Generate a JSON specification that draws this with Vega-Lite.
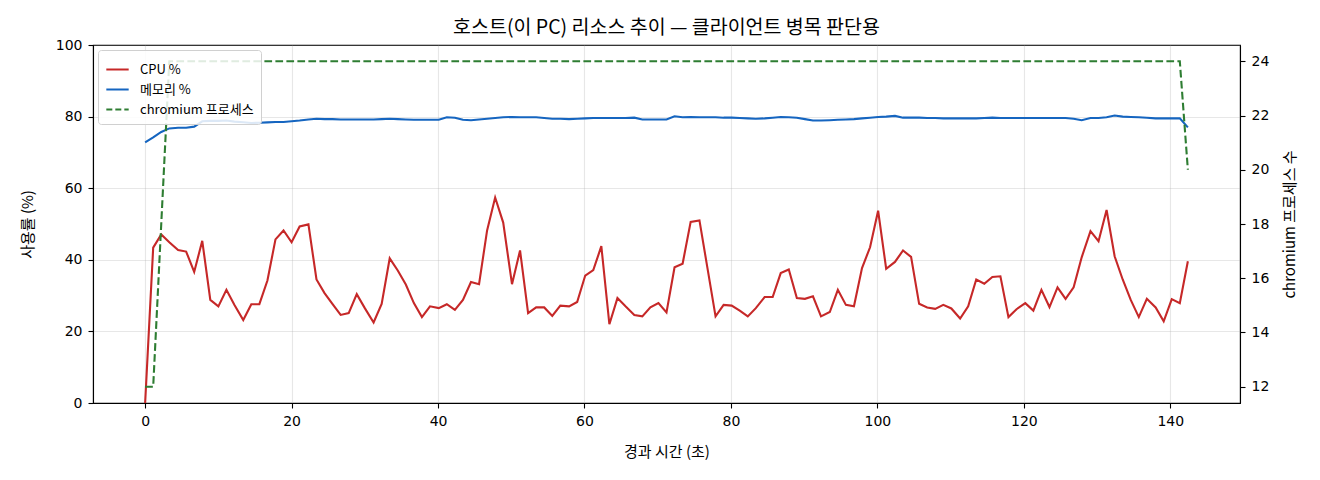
{
  "$schema": "https://vega.github.io/schema/vega-lite/v6.json",
  "autosize": "none",
  "padding": {"left": 93, "top": 45, "right": 80, "bottom": 77},
  "width": 1147,
  "height": 358,
  "title": {
    "text": "호스트(이 PC) 리소스 추이 — 클라이언트 병목 판단용",
    "anchor": "middle",
    "fontSize": 19.5,
    "fontWeight": "normal",
    "color": "black",
    "offset": 0
  },
  "config": {
    "font": "Noto Sans CJK KR",
    "view": {"stroke": "black", "strokeWidth": 1.1},
    "axis": {
      "domainColor": "black",
      "domainWidth": 1.1,
      "tickColor": "black",
      "tickWidth": 1.1,
      "tickSize": 5,
      "labelPadding": 6,
      "labelFont": "DejaVu Sans",
      "labelFontSize": 14,
      "labelColor": "black",
      "labelFontWeight": "normal",
      "titleFontSize": 15,
      "titleFontWeight": "normal",
      "titleColor": "black",
      "gridColor": "#b0b0b0",
      "gridOpacity": 0.3,
      "gridWidth": 1.1
    }
  },
  "data": {
    "values": [
      {"t": 0, "cpu": 0, "mem": 72.8, "proc": 12},
      {"t": 1.1, "cpu": 43.4, "mem": 74.2, "proc": 12},
      {"t": 2.2, "cpu": 47.1, "mem": 75.7, "proc": 18},
      {"t": 3.3, "cpu": 44.9, "mem": 76.7, "proc": 24},
      {"t": 4.5, "cpu": 42.7, "mem": 76.9, "proc": 24},
      {"t": 5.6, "cpu": 42.3, "mem": 76.9, "proc": 24},
      {"t": 6.7, "cpu": 36.6, "mem": 77.2, "proc": 24},
      {"t": 7.8, "cpu": 45.3, "mem": 78.7, "proc": 24},
      {"t": 8.9, "cpu": 28.8, "mem": 78.8, "proc": 24},
      {"t": 10.0, "cpu": 27.0, "mem": 78.8, "proc": 24},
      {"t": 11.1, "cpu": 31.6, "mem": 78.9, "proc": 24},
      {"t": 12.2, "cpu": 27.4, "mem": 78.6, "proc": 24},
      {"t": 13.4, "cpu": 23.2, "mem": 78.4, "proc": 24},
      {"t": 14.5, "cpu": 27.6, "mem": 78.2, "proc": 24},
      {"t": 15.6, "cpu": 27.6, "mem": 78.3, "proc": 24},
      {"t": 16.7, "cpu": 34.2, "mem": 78.4, "proc": 24},
      {"t": 17.8, "cpu": 45.7, "mem": 78.5, "proc": 24},
      {"t": 18.9, "cpu": 48.2, "mem": 78.5, "proc": 24},
      {"t": 20.0, "cpu": 44.9, "mem": 78.7, "proc": 24},
      {"t": 21.1, "cpu": 49.3, "mem": 78.9, "proc": 24},
      {"t": 22.3, "cpu": 49.9, "mem": 79.2, "proc": 24},
      {"t": 23.4, "cpu": 34.5, "mem": 79.4, "proc": 24},
      {"t": 24.5, "cpu": 30.7, "mem": 79.3, "proc": 24},
      {"t": 25.6, "cpu": 27.6, "mem": 79.3, "proc": 24},
      {"t": 26.7, "cpu": 24.6, "mem": 79.2, "proc": 24},
      {"t": 27.8, "cpu": 25.1, "mem": 79.2, "proc": 24},
      {"t": 28.9, "cpu": 30.4, "mem": 79.2, "proc": 24},
      {"t": 30.0, "cpu": 26.5, "mem": 79.2, "proc": 24},
      {"t": 31.2, "cpu": 22.5, "mem": 79.2, "proc": 24},
      {"t": 32.3, "cpu": 27.7, "mem": 79.3, "proc": 24},
      {"t": 33.4, "cpu": 40.4, "mem": 79.4, "proc": 24},
      {"t": 34.5, "cpu": 37.0, "mem": 79.3, "proc": 24},
      {"t": 35.6, "cpu": 33.1, "mem": 79.2, "proc": 24},
      {"t": 36.7, "cpu": 27.9, "mem": 79.1, "proc": 24},
      {"t": 37.8, "cpu": 24.0, "mem": 79.1, "proc": 24},
      {"t": 38.9, "cpu": 27.0, "mem": 79.1, "proc": 24},
      {"t": 40.1, "cpu": 26.5, "mem": 79.1, "proc": 24},
      {"t": 41.2, "cpu": 27.6, "mem": 79.8, "proc": 24},
      {"t": 42.3, "cpu": 26.0, "mem": 79.7, "proc": 24},
      {"t": 43.4, "cpu": 28.8, "mem": 79.1, "proc": 24},
      {"t": 44.5, "cpu": 33.8, "mem": 79.0, "proc": 24},
      {"t": 45.6, "cpu": 33.2, "mem": 79.2, "proc": 24},
      {"t": 46.7, "cpu": 48.2, "mem": 79.4, "proc": 24},
      {"t": 47.8, "cpu": 57.4, "mem": 79.6, "proc": 24},
      {"t": 48.9, "cpu": 50.4, "mem": 79.8, "proc": 24},
      {"t": 50.1, "cpu": 33.2, "mem": 79.9, "proc": 24},
      {"t": 51.2, "cpu": 42.6, "mem": 79.8, "proc": 24},
      {"t": 52.3, "cpu": 25.1, "mem": 79.8, "proc": 24},
      {"t": 53.4, "cpu": 26.7, "mem": 79.8, "proc": 24},
      {"t": 54.5, "cpu": 26.7, "mem": 79.6, "proc": 24},
      {"t": 55.6, "cpu": 24.3, "mem": 79.4, "proc": 24},
      {"t": 56.7, "cpu": 27.2, "mem": 79.4, "proc": 24},
      {"t": 57.9, "cpu": 27.0, "mem": 79.3, "proc": 24},
      {"t": 59.0, "cpu": 28.2, "mem": 79.4, "proc": 24},
      {"t": 60.1, "cpu": 35.6, "mem": 79.5, "proc": 24},
      {"t": 61.2, "cpu": 37.1, "mem": 79.6, "proc": 24},
      {"t": 62.3, "cpu": 43.8, "mem": 79.6, "proc": 24},
      {"t": 63.4, "cpu": 22.0, "mem": 79.6, "proc": 24},
      {"t": 64.5, "cpu": 29.3, "mem": 79.6, "proc": 24},
      {"t": 65.6, "cpu": 27.0, "mem": 79.6, "proc": 24},
      {"t": 66.8, "cpu": 24.6, "mem": 79.7, "proc": 24},
      {"t": 67.9, "cpu": 24.2, "mem": 79.2, "proc": 24},
      {"t": 69.0, "cpu": 26.7, "mem": 79.2, "proc": 24},
      {"t": 70.1, "cpu": 27.9, "mem": 79.2, "proc": 24},
      {"t": 71.2, "cpu": 25.3, "mem": 79.2, "proc": 24},
      {"t": 72.3, "cpu": 37.9, "mem": 80.1, "proc": 24},
      {"t": 73.4, "cpu": 38.9, "mem": 79.8, "proc": 24},
      {"t": 74.5, "cpu": 50.6, "mem": 79.9, "proc": 24},
      {"t": 75.7, "cpu": 51.0, "mem": 79.8, "proc": 24},
      {"t": 76.8, "cpu": 37.6, "mem": 79.8, "proc": 24},
      {"t": 77.9, "cpu": 24.2, "mem": 79.8, "proc": 24},
      {"t": 79.0, "cpu": 27.4, "mem": 79.7, "proc": 24},
      {"t": 80.1, "cpu": 27.2, "mem": 79.7, "proc": 24},
      {"t": 81.2, "cpu": 25.8, "mem": 79.6, "proc": 24},
      {"t": 82.3, "cpu": 24.2, "mem": 79.5, "proc": 24},
      {"t": 83.4, "cpu": 26.5, "mem": 79.4, "proc": 24},
      {"t": 84.6, "cpu": 29.6, "mem": 79.5, "proc": 24},
      {"t": 85.7, "cpu": 29.6, "mem": 79.7, "proc": 24},
      {"t": 86.8, "cpu": 36.3, "mem": 79.9, "proc": 24},
      {"t": 87.9, "cpu": 37.3, "mem": 79.8, "proc": 24},
      {"t": 89.0, "cpu": 29.3, "mem": 79.7, "proc": 24},
      {"t": 90.1, "cpu": 29.1, "mem": 79.3, "proc": 24},
      {"t": 91.2, "cpu": 29.8, "mem": 78.9, "proc": 24},
      {"t": 92.3, "cpu": 24.2, "mem": 78.9, "proc": 24},
      {"t": 93.5, "cpu": 25.4, "mem": 79.0, "proc": 24},
      {"t": 94.6, "cpu": 31.6, "mem": 79.1, "proc": 24},
      {"t": 95.7, "cpu": 27.4, "mem": 79.2, "proc": 24},
      {"t": 96.8, "cpu": 27.0, "mem": 79.3, "proc": 24},
      {"t": 97.9, "cpu": 37.7, "mem": 79.5, "proc": 24},
      {"t": 99.0, "cpu": 43.5, "mem": 79.7, "proc": 24},
      {"t": 100.1, "cpu": 53.7, "mem": 79.9, "proc": 24},
      {"t": 101.2, "cpu": 37.5, "mem": 80.0, "proc": 24},
      {"t": 102.4, "cpu": 39.4, "mem": 80.2, "proc": 24},
      {"t": 103.5, "cpu": 42.6, "mem": 79.7, "proc": 24},
      {"t": 104.6, "cpu": 40.8, "mem": 79.7, "proc": 24},
      {"t": 105.7, "cpu": 27.7, "mem": 79.7, "proc": 24},
      {"t": 106.8, "cpu": 26.7, "mem": 79.6, "proc": 24},
      {"t": 107.9, "cpu": 26.3, "mem": 79.6, "proc": 24},
      {"t": 109.0, "cpu": 27.4, "mem": 79.5, "proc": 24},
      {"t": 110.1, "cpu": 26.4, "mem": 79.5, "proc": 24},
      {"t": 111.3, "cpu": 23.6, "mem": 79.5, "proc": 24},
      {"t": 112.4, "cpu": 27.0, "mem": 79.5, "proc": 24},
      {"t": 113.5, "cpu": 34.5, "mem": 79.5, "proc": 24},
      {"t": 114.6, "cpu": 33.3, "mem": 79.6, "proc": 24},
      {"t": 115.7, "cpu": 35.2, "mem": 79.7, "proc": 24},
      {"t": 116.8, "cpu": 35.4, "mem": 79.6, "proc": 24},
      {"t": 117.9, "cpu": 24.0, "mem": 79.6, "proc": 24},
      {"t": 119.0, "cpu": 26.2, "mem": 79.6, "proc": 24},
      {"t": 120.2, "cpu": 27.9, "mem": 79.6, "proc": 24},
      {"t": 121.3, "cpu": 25.8, "mem": 79.6, "proc": 24},
      {"t": 122.4, "cpu": 31.6, "mem": 79.6, "proc": 24},
      {"t": 123.5, "cpu": 26.8, "mem": 79.6, "proc": 24},
      {"t": 124.6, "cpu": 32.3, "mem": 79.6, "proc": 24},
      {"t": 125.7, "cpu": 29.1, "mem": 79.6, "proc": 24},
      {"t": 126.8, "cpu": 32.3, "mem": 79.4, "proc": 24},
      {"t": 127.9, "cpu": 40.7, "mem": 79.0, "proc": 24},
      {"t": 129.1, "cpu": 48.0, "mem": 79.6, "proc": 24},
      {"t": 130.2, "cpu": 45.2, "mem": 79.6, "proc": 24},
      {"t": 131.3, "cpu": 53.9, "mem": 79.8, "proc": 24},
      {"t": 132.4, "cpu": 41.0, "mem": 80.3, "proc": 24},
      {"t": 133.5, "cpu": 34.5, "mem": 80.0, "proc": 24},
      {"t": 134.6, "cpu": 28.8, "mem": 79.9, "proc": 24},
      {"t": 135.7, "cpu": 24.0, "mem": 79.8, "proc": 24},
      {"t": 136.8, "cpu": 29.1, "mem": 79.7, "proc": 24},
      {"t": 138.0, "cpu": 26.7, "mem": 79.5, "proc": 24},
      {"t": 139.1, "cpu": 22.8, "mem": 79.5, "proc": 24},
      {"t": 140.2, "cpu": 29.0, "mem": 79.5, "proc": 24},
      {"t": 141.3, "cpu": 27.9, "mem": 79.5, "proc": 24},
      {"t": 142.4, "cpu": 39.6, "mem": 77.0, "proc": 20}
    ]
  },
  "encoding": {
    "x": {
      "field": "t",
      "type": "quantitative",
      "scale": {"domain": [-7.12, 149.52], "nice": false, "zero": false},
      "axis": {
        "title": "경과 시간 (초)",
        "values": [0, 20, 40, 60, 80, 100, 120, 140],
        "grid": true,
        "titlePadding": 16
      }
    }
  },
  "layer": [
    {
      "layer": [
        {
          "mark": {"type": "line", "strokeWidth": 2.1, "clip": true},
          "encoding": {
            "y": {
              "field": "cpu",
              "type": "quantitative",
              "title": "사용률 (%)",
              "scale": {"domain": [0, 100], "nice": false},
              "axis": {
                "orient": "left",
                "values": [0, 20, 40, 60, 80, 100],
                "grid": true,
                "titlePadding": 20
              }
            },
            "color": {
              "datum": "CPU %",
              "type": "nominal",
              "scale": {
                "domain": ["CPU %", "메모리 %", "chromium 프로세스"],
                "range": ["#c62828", "#1565c0", "#2e7d32"]
              },
              "legend": {
                "title": null,
                "orient": "top-left",
                "offset": 5,
                "fillColor": "rgba(255,255,255,0.85)",
                "strokeColor": "#d0d0d0",
                "cornerRadius": 3,
                "padding": 7,
                "symbolType": "stroke",
                "symbolSize": 500,
                "symbolStrokeWidth": 2,
                "labelFontSize": 13,
                "labelColor": "black",
                "labelOffset": 10,
                "rowPadding": 0,
                "encode": {
                  "symbols": {
                    "update": {
                      "strokeDash": {"signal": "datum.value == 'chromium 프로세스' ? [6, 3] : [1, 0]"}
                    }
                  }
                }
              }
            }
          }
        },
        {
          "mark": {"type": "line", "strokeWidth": 2.1, "clip": true},
          "encoding": {
            "y": {"field": "mem", "type": "quantitative", "title": "사용률 (%)"},
            "color": {"datum": "메모리 %", "type": "nominal"}
          }
        }
      ]
    },
    {
      "mark": {"type": "line", "strokeWidth": 2.1, "strokeDash": [7.7, 3.3], "clip": true},
      "encoding": {
        "y": {
          "field": "proc",
          "type": "quantitative",
          "title": "chromium 프로세스 수",
          "scale": {"domain": [11.4, 24.6], "nice": false, "zero": false},
          "axis": {
            "orient": "right",
            "values": [12, 14, 16, 18, 20, 22, 24],
            "grid": false,
            "titleAngle": 270,
            "titleBaseline": "top",
            "titlePadding": 14
          }
        },
        "color": {"datum": "chromium 프로세스", "type": "nominal"}
      }
    }
  ],
  "resolve": {"scale": {"y": "independent"}}
}
